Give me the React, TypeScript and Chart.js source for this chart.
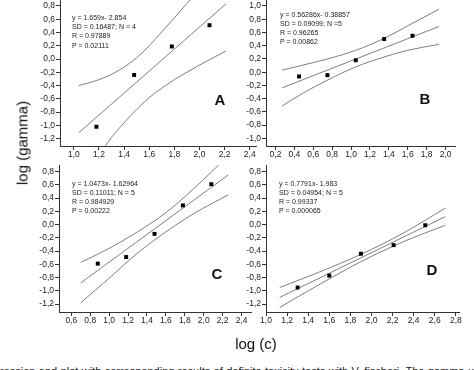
import React, { useEffect, useRef } from "react";
import { Chart, registerables } from "chart.js";

Chart.register(...registerables);

// ---------- Panel A ----------
const aPointsX = [1.18, 1.48, 1.78, 2.08];
const aPointsY = [-1.02, -0.24, 0.19, 0.51];
const aFitX = [1.04, 2.21];
const aFitY = [-1.11, 0.83];
const aUpperX = [1.04, 1.2, 1.35, 1.5, 1.6, 1.7, 1.8, 1.9, 2.0];
const aUpperY = [-0.4, -0.31, -0.18, 0.02, 0.2, 0.41, 0.62, 0.84, 1.05];
const aLowerX = [1.2, 1.3, 1.4, 1.5, 1.6, 1.7, 1.8, 1.9, 2.0, 2.1, 2.21];
const aLowerY = [-1.45, -1.18, -0.96, -0.76, -0.58, -0.44, -0.31, -0.2, -0.09, 0.01, 0.12];
const aTicksX = [1.0, 1.2, 1.4, 1.6, 1.8, 2.0, 2.2, 2.4];
const aTicksY = [-1.2, -1.0, -0.8, -0.6, -0.4, -0.2, 0.0, 0.2, 0.4, 0.6, 0.8];
const aStats = ["y = 1.659x- 2.854", "SD = 0.16487; N = 4", "R = 0.97889", "P = 0.02111"];

// ---------- Panel B ----------
const bPointsX = [0.45, 0.75, 1.05, 1.35, 1.65];
const bPointsY = [-0.065, -0.045, 0.18, 0.5, 0.55];
const bFitX = [0.27, 1.93];
const bFitY = [-0.237, 0.69];
const bBandX = [0.27, 0.5, 0.75, 1.05, 1.35, 1.6, 1.93];
const bUpperY = [0.03, 0.11, 0.2, 0.33, 0.51, 0.7, 0.95];
const bLowerY = [-0.51, -0.31, -0.12, 0.08, 0.23, 0.33, 0.42];
const bTicksX = [0.2, 0.4, 0.6, 0.8, 1.0, 1.2, 1.4, 1.6, 1.8, 2.0];
const bTicksY = [-1.0, -0.8, -0.6, -0.4, -0.2, 0.0, 0.2, 0.4, 0.6, 0.8, 1.0];
const bStats = ["y = 0.56286x- 0.38857", "SD = 0.09099; N =5", "R = 0.96265", "P = 0.00862"];

// ---------- Panel C ----------
const cPointsX = [0.88, 1.18, 1.48, 1.78, 2.08];
const cPointsY = [-0.59, -0.49, -0.14, 0.29, 0.61];
const cFitX = [0.7, 2.26];
const cFitY = [-0.88, 0.75];
const cBandX = [0.7, 1.0, 1.3, 1.6, 1.9, 2.26];
const cUpperY = [-0.57, -0.36, -0.11, 0.18, 0.55, 1.04];
const cLowerY = [-1.18, -0.81, -0.43, -0.11, 0.17, 0.45];
const cTicksX = [0.6, 0.8, 1.0, 1.2, 1.4, 1.6, 1.8, 2.0, 2.2, 2.4];
const cTicksY = [-1.2, -1.0, -0.8, -0.6, -0.4, -0.2, 0.0, 0.2, 0.4, 0.6, 0.8];
const cStats = ["y = 1.0473x- 1.62964", "SD = 0.11011; N = 5", "R = 0.984929", "P = 0.00222"];

// ---------- Panel D ----------
const dPointsX = [1.3, 1.6, 1.9, 2.21, 2.51];
const dPointsY = [-0.95, -0.77, -0.44, -0.31, -0.01];
const dFitX = [1.13, 2.7];
const dFitY = [-1.1, 0.12];
const dBandX = [1.13, 1.5, 1.9, 2.3, 2.7];
const dUpperY = [-0.95, -0.72, -0.45, -0.13, 0.25];
const dLowerY = [-1.25, -0.91, -0.56, -0.26, -0.01];
const dTicksX = [1.0, 1.2, 1.4, 1.6, 1.8, 2.0, 2.2, 2.4, 2.6, 2.8];
const dTicksY = [-1.2, -1.0, -0.8, -0.6, -0.4, -0.2, 0.0, 0.2, 0.4, 0.6, 0.8];
const dStats = ["y = 0.7791x- 1.983", "SD = 0.04954; N = 5", "R = 0.99337", "P = 0.000065"];

const yAxisTitle = "log (gamma)";
const xAxisTitle = "log (c)";
const caption =
  "ression and plot with corresponding results of definite toxicity tests with V. fischeri. The gamma u";

const FONT = "'Liberation Sans', Arial, Helvetica, sans-serif";
const zip = (xs: number[], ys: number[]) => xs.map((x, i) => ({ x, y: ys[i] }));
const fmt = (v: number) => (Math.abs(v) < 1e-9 ? 0 : v).toFixed(1).replace(".", ",");

type PanelDef = {
  px: number[]; py: number[];
  fx: number[]; fy: number[];
  ux: number[]; uy: number[];
  lx: number[]; ly: number[];
  tx: number[]; ty: number[];
  xMin: number; xMax: number; yMin: number; yMax: number;
  left: number; right: number; top: number; bottom: number;
};

const panels: PanelDef[] = [
  { px: aPointsX, py: aPointsY, fx: aFitX, fy: aFitY, ux: aUpperX, uy: aUpperY, lx: aLowerX, ly: aLowerY,
    tx: aTicksX, ty: aTicksY, xMin: 0.89, xMax: 2.45, yMin: -1.31, yMax: 0.89, left: 60, right: 256, top: 0, bottom: 146 },
  { px: bPointsX, py: bPointsY, fx: bFitX, fy: bFitY, ux: bBandX, uy: bUpperY, lx: bBandX, ly: bLowerY,
    tx: bTicksX, ty: bTicksY, xMin: 0.1, xMax: 2.1, yMin: -1.115, yMax: 1.09, left: 266, right: 455, top: 0, bottom: 146 },
  { px: cPointsX, py: cPointsY, fx: cFitX, fy: cFitY, ux: cBandX, uy: cUpperY, lx: cBandX, ly: cLowerY,
    tx: cTicksX, ty: cTicksY, xMin: 0.47, xMax: 2.5, yMin: -1.32, yMax: 0.9, left: 59, right: 251, top: 165, bottom: 312 },
  { px: dPointsX, py: dPointsY, fx: dFitX, fy: dFitY, ux: dBandX, uy: dUpperY, lx: dBandX, ly: dLowerY,
    tx: dTicksX, ty: dTicksY, xMin: 1.0, xMax: 2.83, yMin: -1.32, yMax: 0.9, left: 266, right: 459, top: 165, bottom: 312 },
];

const YW = 34, XH = 18, PT = 8, PR = 8;

function Panel({ def }: { def: PanelDef }) {
  const ref = useRef<HTMLCanvasElement | null>(null);
  const w = YW + (def.right - def.left) + PR;
  const h = PT + (def.bottom - def.top) + XH;
  useEffect(() => {
    if (!ref.current) return;
    const lineDs = (data: any[], curved: boolean) => ({
      data, showLine: true, pointRadius: 0, borderColor: "#6f6f6f", borderWidth: 0.9,
      fill: false, tension: 0, cubicInterpolationMode: curved ? "monotone" : "default",
    });
    const axisCommon = {
      type: "linear",
      grid: { display: true, drawOnChartArea: false, drawTicks: true, tickLength: 4, color: "#333", lineWidth: 1 },
      border: { display: true, color: "#333", width: 1 },
    };
    const chart = new Chart(ref.current, {
      type: "scatter",
      data: {
        datasets: [
          { data: zip(def.px, def.py), pointStyle: "rect", pointRadius: 2.8, backgroundColor: "#000",
            borderColor: "#000", borderWidth: 0, showLine: false },
          lineDs(zip(def.fx, def.fy), false),
          lineDs(zip(def.ux, def.uy), true),
          lineDs(zip(def.lx, def.ly), true),
        ] as any,
      },
      options: {
        animation: false,
        responsive: false,
        maintainAspectRatio: false,
        events: [],
        layout: { padding: { top: PT, right: PR, left: 0, bottom: 0 } },
        plugins: { legend: { display: false }, tooltip: { enabled: false } },
        scales: {
          x: {
            ...axisCommon,
            min: def.xMin, max: def.xMax,
            afterBuildTicks: (s: any) => { s.ticks = def.tx.map((v) => ({ value: v })); },
            afterFit: (s: any) => { s.height = XH; s.paddingLeft = 0; s.paddingRight = 0; },
            ticks: { autoSkip: false, maxRotation: 0, minRotation: 0, padding: 0, color: "#222",
              font: { family: FONT, size: 8.5 }, callback: (v: any) => fmt(Number(v)) },
          },
          y: {
            ...axisCommon,
            min: def.yMin, max: def.yMax,
            afterBuildTicks: (s: any) => { s.ticks = def.ty.map((v) => ({ value: v })); },
            afterFit: (s: any) => { s.width = YW; s.paddingTop = 0; s.paddingBottom = 0; },
            ticks: { autoSkip: false, padding: 1, color: "#222",
              font: { family: FONT, size: 8.5 }, callback: (v: any) => fmt(Number(v)) },
          },
        } as any,
      },
    } as any);
    return () => chart.destroy();
  }, []);
  return (
    <canvas
      ref={ref}
      width={w}
      height={h}
      style={{ position: "absolute", left: def.left - YW, top: def.top - PT, width: w, height: h }}
    />
  );
}

function Stats({ lines, left, top, lh }: { lines: string[]; left: number; top: number; lh: number }) {
  return (
    <div style={{ position: "absolute", left, top, fontFamily: FONT, fontSize: 7, lineHeight: lh + "px",
      color: "#222", whiteSpace: "nowrap" }}>
      {lines.map((l, i) => (<div key={i}>{l}</div>))}
    </div>
  );
}

function Letter({ ch, x, y }: { ch: string; x: number; y: number }) {
  return (
    <div style={{ position: "absolute", left: x, top: y, transform: "translate(-50%,-50%)", fontFamily: FONT,
      fontWeight: "bold", fontSize: 15, lineHeight: "15px", color: "#111" }}>{ch}</div>
  );
}

export default function App() {
  return (
    <div style={{ position: "fixed", left: 0, top: 0, width: 474, height: 370, overflow: "hidden", background: "#fff" }}>
      {panels.map((p, i) => (<Panel key={i} def={p} />))}
      <Stats lines={aStats} left={72} top={12.9} lh={9.2} />
      <Stats lines={bStats} left={280} top={10.2} lh={9} />
      <Stats lines={cStats} left={72} top={180.2} lh={8.9} />
      <Stats lines={dStats} left={279} top={180.2} lh={8.9} />
      <Letter ch="A" x={220} y={99} />
      <Letter ch="B" x={425} y={98} />
      <Letter ch="C" x={217} y={273} />
      <Letter ch="D" x={432} y={269} />
      <div style={{ position: "absolute", left: 22, top: 143, transform: "translate(-50%,-50%) rotate(-90deg)",
        fontFamily: FONT, fontSize: 15, lineHeight: "15px", whiteSpace: "nowrap", color: "#111" }}>{yAxisTitle}</div>
      <div style={{ position: "absolute", left: 256, top: 343, transform: "translate(-50%,-50%)",
        fontFamily: FONT, fontSize: 15, lineHeight: "15px", whiteSpace: "nowrap", color: "#111" }}>{xAxisTitle}</div>
      <div style={{ position: "absolute", left: 0, top: 365.5, width: 474, fontFamily: FONT, fontSize: 11,
        lineHeight: "11px", whiteSpace: "nowrap", textAlign: "justify", textAlignLast: "justify" as any,
        color: "#222" }}>{caption}</div>
    </div>
  );
}
